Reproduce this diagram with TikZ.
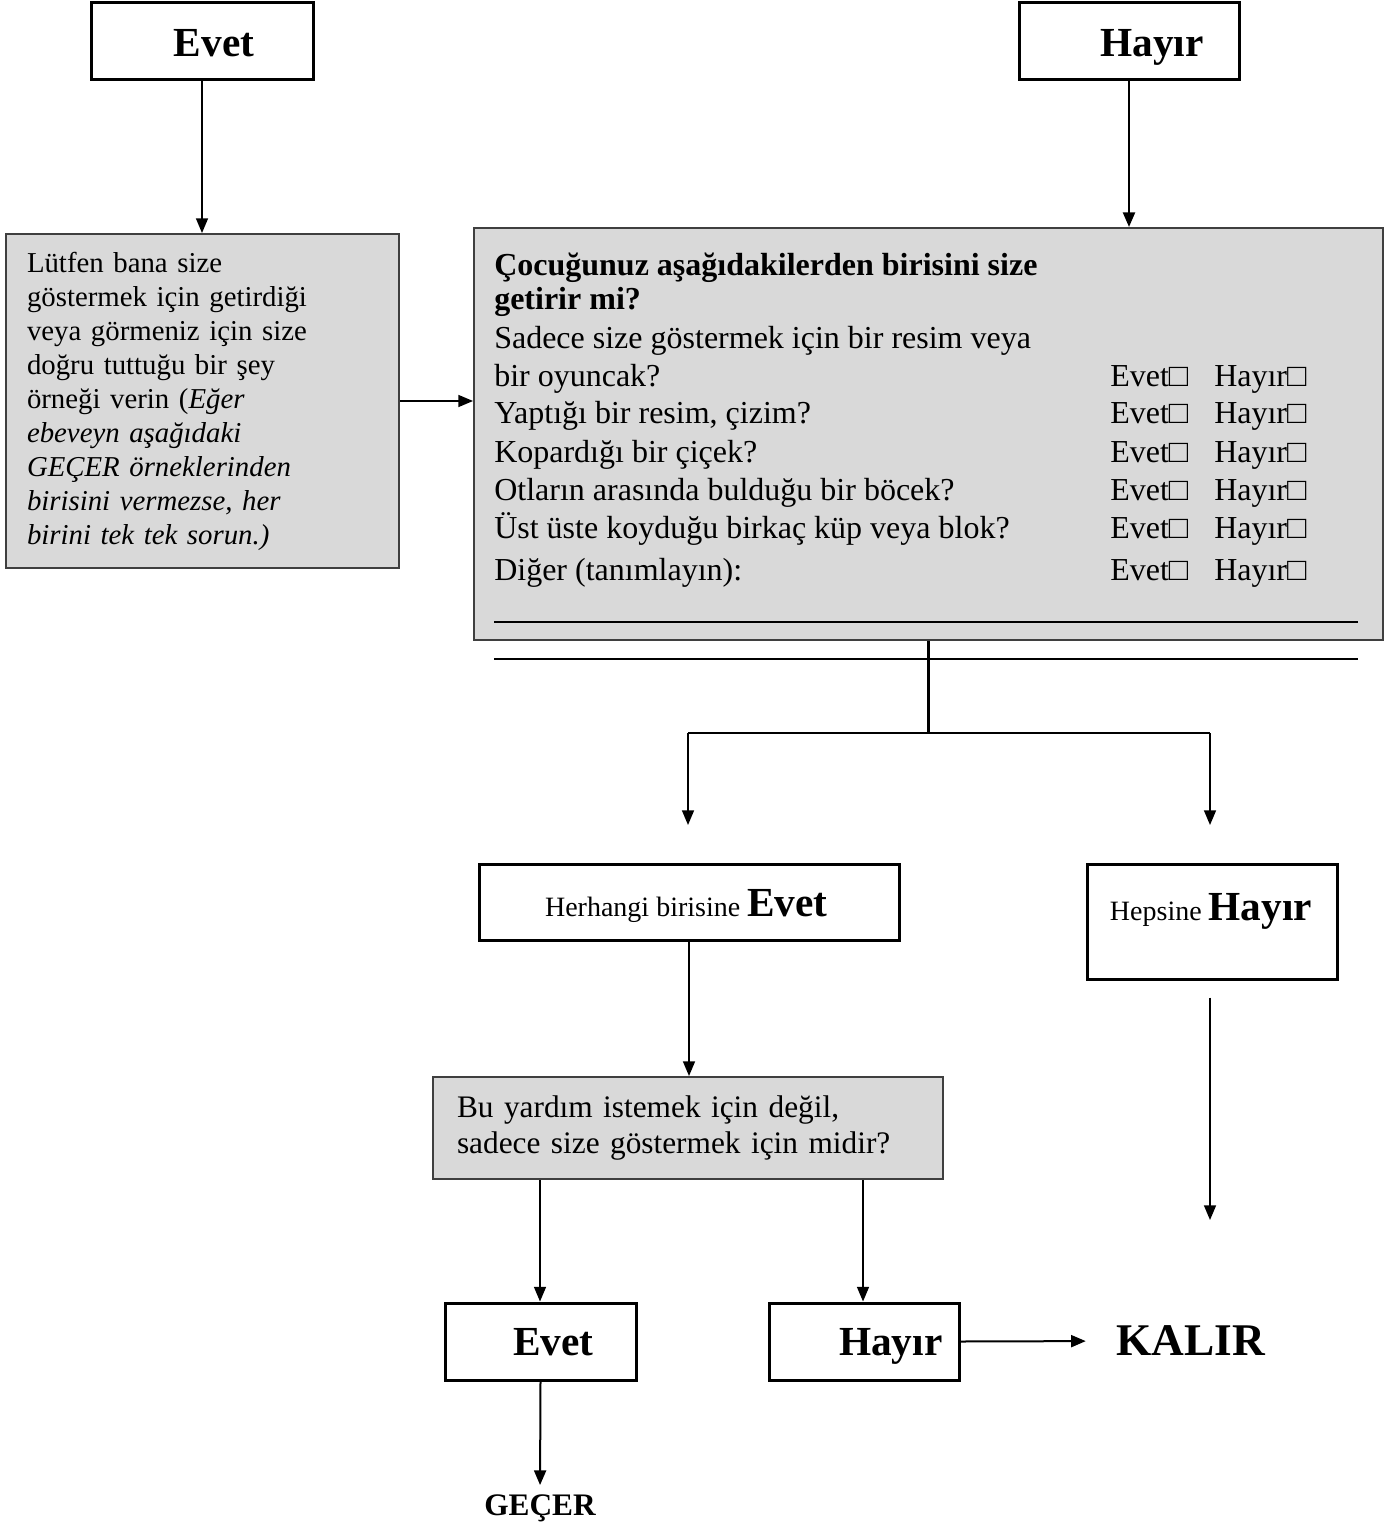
\documentclass[tikz,border=0pt]{standalone}
\usepackage{fontspec}
\setmainfont{Liberation Serif}
\usetikzlibrary{arrows.meta,calc}
\definecolor{boxfill}{HTML}{D9D9D9}
\definecolor{boxedge}{HTML}{3F3F3F}

\begin{document}
\begin{tikzpicture}[x=0.75pt,y=-0.75pt,
  every node/.style={inner sep=0pt, text=black},
  wbox/.style={draw=black, line width=2.25pt, fill=white, rectangle},
  gbox/.style={draw=boxedge, line width=1.5pt, fill=boxfill, rectangle},
  conn/.style={line width=1.1pt, -{Triangle[length=11pt,width=9pt]}},
  plain/.style={line width=1.1pt},
  bigword/.style={font=\fontsize{31}{36}\selectfont\bfseries, text depth=0pt},
  body/.style={font=\fontsize{24}{28}\selectfont},
]
\useasboundingbox (0,0) rectangle (1396,1526);

% --- top answer boxes
\node[wbox, minimum width=166.5pt, minimum height=57.75pt, bigword] (te) at (202,41.5) {\hspace*{18pt}\raisebox{-2pt}{Evet}};
\node[wbox, minimum width=165pt, minimum height=57.75pt, bigword] (th) at (1129,41.5) {\hspace*{34.5pt}\raisebox{-2pt}{Hayır}};

% --- left instruction box
\node[gbox, minimum width=294.75pt, minimum height=250.5pt, text width=263.25pt,
      inner xsep=15.75pt, align=left, font=\fontsize{21.6}{25.5}\selectfont] (lb) at (202.5,401)
  {Lütfen bana size\\
   göstermek için getirdiği\\
   veya görmeniz için size\\
   doğru tuttuğu bir şey\\
   örneği verin (\textit{Eğer}\\
   \textit{ebeveyn aşağıdaki}\\
   \textit{GEÇER örneklerinden}\\
   \textit{birisini vermezse, her}\\
   \textit{birini tek tek sorun.)}};

% --- question box with checklist
\node[gbox, minimum width=681.75pt, minimum height=309pt] (big) at (928.5,434) {};
\node[body, anchor=base west, font=\fontsize{24}{28}\selectfont\bfseries] (q1) at (494,276) {Çocuğunuz aşağıdakilerden birisini size};
\node[body, anchor=base west, font=\fontsize{24}{28}\selectfont\bfseries] (q2) at (494,310) {getirir mi?};
\node[body, anchor=base west] (q3) at (494,349) {Sadece size göstermek için bir resim veya};
\node[body, anchor=base west] (q4) at (494,386) {bir oyuncak?};
\node[body, anchor=base west] (q5) at (494,423) {Yaptığı bir resim, çizim?};
\node[body, anchor=base west] (q6) at (494,462) {Kopardığı bir çiçek?};
\node[body, anchor=base west] (q7) at (494,500) {Otların arasında bulduğu bir böcek?};
\node[body, anchor=base west] (q8) at (494,538) {Üst üste koyduğu birkaç küp veya blok?};
\node[body, anchor=base west] (q9) at (494,580) {Diğer (tanımlayın):};
\foreach \yy [count=\k] in {386,423,462,500,538,580} {
  \node[body, anchor=base west] (ev\k) at (1110,\yy) {Evet□};
  \node[body, anchor=base west] (ha\k) at (1214,\yy) {Hayır□};
}
% blank answer lines
\draw[plain] (494,622) -- (1358,622);
\draw[plain] (494,659) -- (1358,659);

% --- branch boxes
\node[wbox, minimum width=315pt, minimum height=57pt, text depth=0pt] (he) at (689,902)
  {\raisebox{-2pt}{{\fontsize{21}{25}\selectfont Herhangi birisine }{\fontsize{31}{36}\selectfont\bfseries Evet}}\hspace*{4pt}};
\node[wbox, minimum width=187.5pt, minimum height=86.25pt] (hep) at (1212,921.5) {};
\node[text depth=0pt] (hept) at (1211,907)
  {{\fontsize{21}{25}\selectfont Hepsine }{\fontsize{31}{36}\selectfont\bfseries Hayır}};

\node[gbox, minimum width=382.5pt, minimum height=76.5pt, text width=346.5pt,
      inner xsep=18pt, align=left, font=\fontsize{23.5}{27}\selectfont] (g2) at (688,1128)
  {Bu yardım istemek için değil,\\ sadece size göstermek için midir?};

\node[wbox, minimum width=143.25pt, minimum height=57.75pt, bigword] (eb) at (540.5,1341.5) {\hspace*{19pt}Evet};
\node[wbox, minimum width=142.5pt, minimum height=57.75pt, bigword] (hb) at (864,1341.5) {\hspace*{40pt}Hayır};

\node[font=\fontsize{34}{40}\selectfont\bfseries, text depth=0pt] (kal) at (1191,1341) {KALIR};
\node[font=\fontsize{23.5}{28}\selectfont\bfseries, text depth=0pt] (gec) at (540,1505) {GEÇER};

% --- connectors
\draw[conn] (te.south) -- (te.south |- lb.north);
\draw[conn, line width=1.8pt] (th.south) -- (th.south |- big.north);
\draw[conn] (lb.east) -- (lb.east -| big.west);

\coordinate (jn) at (928.5,733);
\coordinate (jl) at (688,733);
\coordinate (jr) at (1210,733);
\coordinate (al) at (688,825);
\coordinate (ar) at (1210,825);
\draw[line width=2.25pt] (big.south) -- (big.south |- jn);
\draw[plain] (jl) -- (jr);
\draw[conn] (jl) -- (al);
\draw[conn] (jr) -- (ar);

\draw[conn] (he.south) -- (he.south |- g2.north);
\coordinate (hs) at ($(hep.south)+(-2,17)$);
\coordinate (hend) at (1210,1220);
\draw[conn] (hs) -- (hend);

\draw[conn] (g2.south -| 540,0) -- (540,0 |- eb.north);
\draw[conn] (g2.south -| 863,0) -- (863,0 |- hb.north);

\draw[conn, line width=1.5pt, shorten >=23pt] (hb.east) -- (kal.west);
\draw[conn, line width=1.5pt, shorten >=7pt] (eb.south) -- (gec.north);
\end{tikzpicture}
\end{document}
